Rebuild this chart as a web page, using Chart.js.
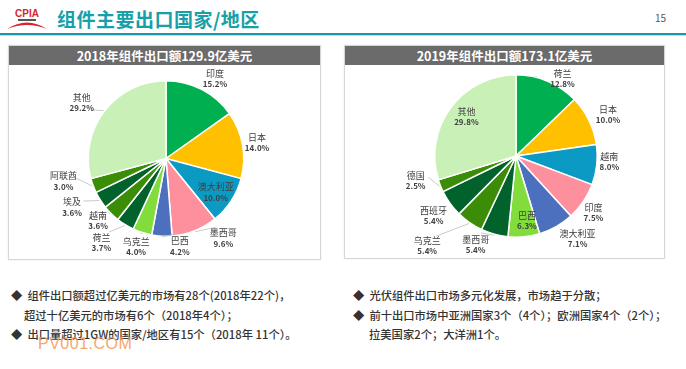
<!DOCTYPE html>
<html>
<head>
<meta charset="utf-8">
<script src="https://cdn.jsdelivr.net/npm/chart.js@4.4.1/dist/chart.umd.min.js"></script>
<style>
  body { margin: 0; width: 686px; height: 369px; background: #fff; position: relative; overflow: hidden;
         font-family: "Noto Sans CJK SC", "Noto Sans", sans-serif; }
  .abs { position: absolute; }
  #title { left: 57px; top: 5px; font-size: 19px; font-weight: bold; color: #17a0a8; letter-spacing: 0.5px; }
  #page { left: 655px; top: 10px; font-size: 10px; color: #555; }
  #rule1 { left: 0; top: 33px; width: 686px; height: 2px; background: #1b98a4; }
  #rule2 { left: 0; top: 35px; width: 686px; height: 1px; background: #b7dfe2; }
  .panel { border: 1px solid #d6d6d6; background: #fff; box-shadow: 0 0 2px rgba(0,0,0,0.08); }
  .bar { position: absolute; left: 0; top: 0; right: 0; height: 19px; background: #6b6b6b; color: #fff;
         font-weight: bold; font-size: 12.5px; line-height: 19px; text-align: center; }
  .note { font-size: 11.3px; color: #333; font-weight: 500; white-space: nowrap; line-height: 14px; }
  #wm { left: 38px; top: 335px; font-family: "Liberation Sans", sans-serif; font-size: 16px; color: #f39a55;
        opacity: 0.85; letter-spacing: 0.5px; }
</style>
</head>
<body>
<svg class="abs" style="left:4px;top:3px" width="46" height="30" viewBox="0 0 46 30">
  <text x="23" y="14" text-anchor="middle" font-family="Liberation Sans, sans-serif" font-weight="bold" font-size="10" fill="#d9262c">CPIA</text>
  <rect x="14" y="16" width="18" height="2" fill="#555"/>
  <path d="M3 26 Q23 13 43 26 Q23 18 3 26 Z" fill="#d9262c"/>
</svg>
<div id="title" class="abs">组件主要出口国家/地区</div>
<div id="page" class="abs">15</div>
<div id="rule1" class="abs"></div>
<div id="rule2" class="abs"></div>

<div class="abs panel" style="left:8px;top:45px;width:311px;height:213px;">
  <div class="bar">2018年组件出口额129.9亿美元</div>
</div>
<div class="abs panel" style="left:344px;top:45px;width:319px;height:212px;">
  <div class="bar">2019年组件出口额173.1亿美元</div>
</div>
<canvas id="pie2018" class="abs" style="left:9px;top:65px" width="310" height="192"></canvas>
<canvas id="pie2019" class="abs" style="left:345px;top:65px" width="318" height="192"></canvas>

<div class="abs note" style="left:11px;top:288px">◆&nbsp; 组件出口额超过亿美元的市场有28个(2018年22个)，</div>
<div class="abs note" style="left:24px;top:308px">超过十亿美元的市场有6个（2018年4个）；</div>
<div class="abs note" style="left:11px;top:327px">◆&nbsp; 出口量超过1GW的国家/地区有15个（2018年 11个）。</div>
<div class="abs note" style="left:353px;top:288px">◆&nbsp; 光伏组件出口市场多元化发展，市场趋于分散；</div>
<div class="abs note" style="left:353px;top:308px">◆&nbsp; 前十出口市场中亚洲国家3个（4个）；欧洲国家4个（2个）；</div>
<div class="abs note" style="left:369px;top:327px">拉美国家2个；大洋洲1个。</div>
<div id="wm" class="abs">PV001.COM</div>

<script>
// 2018 data (clockwise from 12 o'clock)
const countries2018 = ["印度", "日本", "澳大利亚", "墨西哥", "巴西", "乌克兰", "荷兰", "越南", "埃及", "阿联酋", "其他"];
const share2018 = [15.2, 14.0, 10.0, 9.6, 4.2, 4.0, 3.7, 3.6, 3.6, 3.0, 29.2];

// 2019 data
const countries2019 = ["荷兰", "日本", "越南", "印度", "澳大利亚", "巴西", "墨西哥", "乌克兰", "西班牙", "德国", "其他"];
const share2019 = [12.8, 10.0, 8.0, 7.5, 7.1, 6.3, 5.4, 5.4, 5.4, 2.5, 29.8];

const C = {
  green: "#00b050", gold: "#ffc000", teal: "#0b9ac4", pink: "#fe8f9c", blue: "#4c70be",
  lime: "#82dc3c", dark: "#01622b", olive: "#3b8d08", pale: "#c9f0b6"
};
const colors2018 = [C.green, C.gold, C.teal, C.pink, C.blue, C.lime, C.dark, C.olive, C.dark, C.olive, C.pale];
const colors2019 = [C.green, C.gold, C.teal, C.pink, C.blue, C.lime, C.dark, C.olive, C.dark, C.olive, C.pale];

// label placement: [distance as share of radius, angle nudge in degrees, leader line]
const labelPos2018 = [[1.21, 4, 0], [1.19, 0, 0], [0.77, 1, 0], [1.26, -14, 1], [1.14, -12, 1], [1.19, 1, 1],
                      [1.36, 6, 1], [1.18, 3, 1], [1.36, 5, 1], [1.35, 8, 1], [1.3, -4, 1]];
const labelPos2019 = [[1.11, 8, 0], [1.24, 2, 0], [1.15, -3, 0], [1.18, 2, 0], [1.27, -7, 0], [0.81, -4, 0],
                      [1.2, 9, 1], [1.55, 10, 1], [1.25, 0, 0], [1.27, 8, 1], [0.78, 2, 0]];

const sliceLabels = {
  id: "sliceLabels",
  afterDatasetsDraw(chart, args, opts) {
    const ctx = chart.ctx;
    const meta = chart.getDatasetMeta(0);
    const values = chart.data.datasets[0].data;
    ctx.save();
    meta.data.forEach((arc, i) => {
      const p = arc.getProps(["x", "y", "startAngle", "endAngle", "outerRadius"], true);
      const [f, nudge, leader] = opts.layout[i];
      const mid = (p.startAngle + p.endAngle) / 2;
      const a = mid + nudge * Math.PI / 180;
      const d = p.outerRadius * f;
      const lx = p.x + Math.cos(a) * d;
      const ly = p.y + Math.sin(a) * d;
      if (leader) {
        ctx.strokeStyle = "#bdbdbd";
        ctx.lineWidth = 0.8;
        ctx.beginPath();
        ctx.moveTo(p.x + Math.cos(mid) * (p.outerRadius + 1), p.y + Math.sin(mid) * (p.outerRadius + 1));
        ctx.lineTo(p.x + Math.cos(a) * (d - 13), p.y + Math.sin(a) * (d - 13));
        ctx.stroke();
      }
      ctx.textAlign = "center";
      ctx.textBaseline = "middle";
      ctx.fillStyle = "#404040";
      ctx.font = '9px "Noto Sans CJK SC", sans-serif';
      ctx.fillText(chart.data.labels[i], lx, ly - 5);
      ctx.font = 'bold 8px "Noto Sans CJK SC", sans-serif';
      ctx.fillText(values[i].toFixed(1) + "%", lx, ly + 5.5);
    });
    ctx.restore();
  }
};

function makePie(id, labels, values, colors, layout, padding) {
  return new Chart(document.getElementById(id), {
    type: "pie",
    data: {
      labels: labels,
      datasets: [{ data: values, backgroundColor: colors, borderColor: "#ffffff", borderWidth: 1.5 }]
    },
    options: {
      responsive: false,
      animation: false,
      devicePixelRatio: 1,
      layout: { padding: padding },
      plugins: {
        legend: { display: false },
        tooltip: { enabled: false },
        sliceLabels: { layout: layout }
      }
    },
    plugins: [sliceLabels]
  });
}

makePie("pie2018", countries2018, share2018, colors2018, labelPos2018, { left: 78, right: 74, top: 15, bottom: 20 });
makePie("pie2019", countries2019, share2019, colors2019, labelPos2019, { left: 89, right: 65, top: 9, bottom: 19 });
</script>
</body>
</html>
